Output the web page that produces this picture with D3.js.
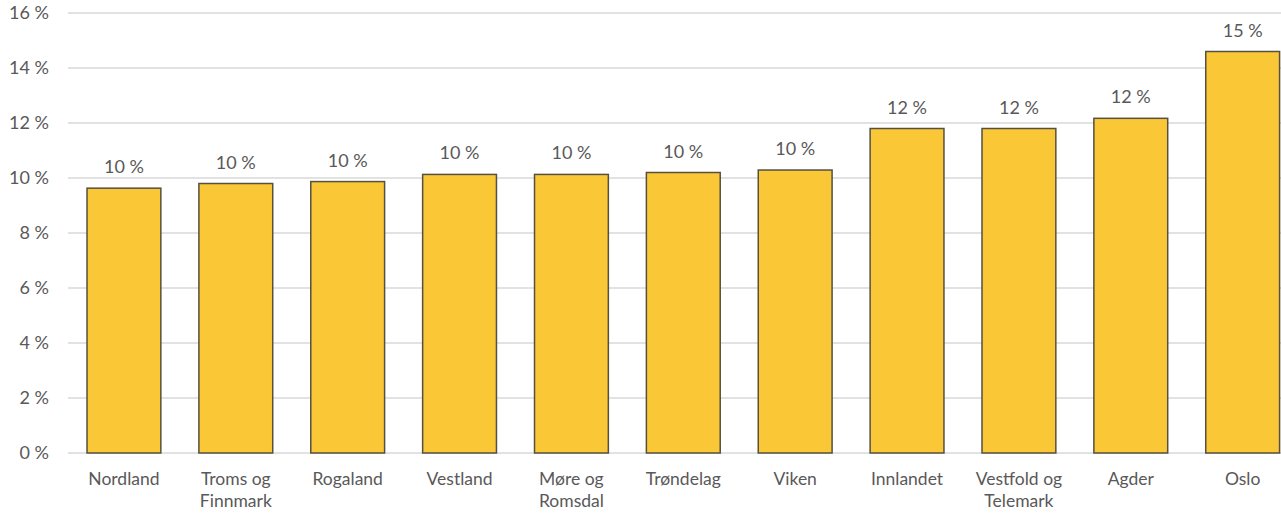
<!DOCTYPE html>
<html>
<head>
<meta charset="utf-8">
<script src="https://cdn.jsdelivr.net/npm/d3@7"></script>
<style>
  html, body { margin: 0; padding: 0; background: #fff; }
  svg { display: block; }
  text { font-family: Lato, "Open Sans", sans-serif; fill: #595959; }
</style>
</head>
<body>
<svg id="chart" width="1281" height="513"></svg>
<script>
// Regions (two-line names split with "\n")
const regions = [
  "Nordland", "Troms og\nFinnmark", "Rogaland", "Vestland", "Møre og\nRomsdal",
  "Trøndelag", "Viken", "Innlandet", "Vestfold og\nTelemark", "Agder", "Oslo"
];
// Share in percent
const shares = [9.63, 9.8, 9.87, 10.13, 10.13, 10.2, 10.29, 11.8, 11.8, 12.17, 14.6];
// Y-axis ticks
const yTicks = [0, 2, 4, 6, 8, 10, 12, 14, 16];

const svg = d3.select("#chart");
const plotLeft = 68, plotRight = 1298.6, plotTop = 13, plotBottom = 453;

const x = d3.scaleBand()
  .domain(regions)
  .range([plotLeft, plotRight])
  .paddingInner(0.34)
  .paddingOuter(0.17);

const y = d3.scaleLinear()
  .domain([0, 16])
  .range([plotBottom, plotTop]);

const pct = v => `${d3.format(".0f")(v)} %`;

// Horizontal gridlines
svg.append("g")
  .selectAll("line")
  .data(yTicks)
  .join("line")
  .attr("x1", plotLeft)
  .attr("x2", plotRight)
  .attr("y1", d => y(d))
  .attr("y2", d => y(d))
  .attr("stroke", "#d9d9d9")
  .attr("stroke-width", 1.5);

// Y axis labels
const yAxis = d3.axisLeft(y).tickValues(yTicks).tickFormat(pct).tickSize(0).tickPadding(0);
svg.append("g")
  .attr("transform", `translate(49,0)`)
  .call(yAxis)
  .call(g => g.select(".domain").remove())
  .call(g => g.selectAll("text")
    .attr("fill", "#595959")
    .style("font-family", "Lato, 'Open Sans', sans-serif")
    .style("font-size", "18px"));

// Bars
const rows = regions.map((r, i) => ({ region: r, value: shares[i] }));
svg.append("g")
  .selectAll("rect")
  .data(rows)
  .join("rect")
  .attr("x", d => x(d.region))
  .attr("width", x.bandwidth())
  .attr("y", d => y(d.value))
  .attr("height", d => y(0) - y(d.value))
  .attr("fill", "#fac737")
  .attr("stroke", "#55503f")
  .attr("stroke-width", 1.5);

// Value labels
svg.append("g")
  .selectAll("text")
  .data(rows)
  .join("text")
  .attr("x", d => x(d.region) + x.bandwidth() / 2)
  .attr("y", d => y(d.value) - 15)
  .attr("text-anchor", "middle")
  .style("font-size", "18px")
  .text(d => pct(d.value));

// Category labels
const cat = svg.append("g")
  .selectAll("text")
  .data(regions)
  .join("text")
  .attr("x", d => x(d) + x.bandwidth() / 2)
  .attr("y", 485)
  .attr("text-anchor", "middle")
  .style("font-size", "17.5px");
cat.selectAll("tspan")
  .data(d => d.split("\n"))
  .join("tspan")
  .attr("x", function () { return d3.select(this.parentNode).attr("x"); })
  .attr("dy", (d, i) => i === 0 ? 0 : 22)
  .text(d => d);
</script>
</body>
</html>
